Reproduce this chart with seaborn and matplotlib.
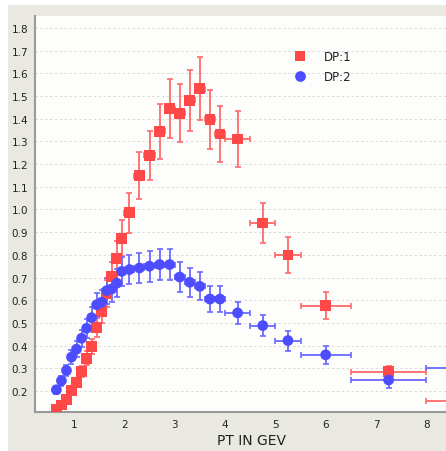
import numpy as np
import pandas as pd
import matplotlib
matplotlib.use("Agg")
import matplotlib.pyplot as plt
import seaborn as sns

# ---- data ----
dp1_x = [0.65, 0.75, 0.85, 0.95, 1.05, 1.15, 1.25, 1.35, 1.45, 1.55, 1.65, 1.75, 1.85, 1.95,
         2.1, 2.3, 2.5, 2.7, 2.9, 3.1, 3.3, 3.5, 3.7, 3.9, 4.25, 4.75, 5.25, 6.0, 7.25, 9.0]
dp1_y = [0.12, 0.138, 0.162, 0.201, 0.238, 0.285, 0.344, 0.397, 0.481, 0.55, 0.63, 0.703, 0.784, 0.873,
         0.985, 1.149, 1.238, 1.344, 1.445, 1.424, 1.481, 1.533, 1.398, 1.333, 1.311, 0.94, 0.799, 0.576, 0.285, 0.157]
dp1_yerr = [0.01, 0.012, 0.014, 0.017, 0.02, 0.024, 0.03, 0.034, 0.042, 0.05, 0.058, 0.066, 0.075, 0.08,
            0.088, 0.105, 0.11, 0.12, 0.13, 0.127, 0.135, 0.14, 0.13, 0.125, 0.122, 0.09, 0.08, 0.06, 0.027, 0.015]
dp1_xerr = [0.05] * 14 + [0.1] * 10 + [0.25, 0.25, 0.25, 0.5, 0.75, 1.0]

dp2_x = [0.65, 0.75, 0.85, 0.95, 1.05, 1.15, 1.25, 1.35, 1.45, 1.55, 1.65, 1.75, 1.85, 1.95,
         2.1, 2.3, 2.5, 2.7, 2.9, 3.1, 3.3, 3.5, 3.7, 3.9, 4.25, 4.75, 5.25, 6.0, 7.25, 9.0]
dp2_y = [0.205, 0.245, 0.29, 0.349, 0.384, 0.432, 0.476, 0.523, 0.58, 0.591, 0.642, 0.65, 0.675, 0.727,
         0.735, 0.742, 0.75, 0.757, 0.757, 0.702, 0.679, 0.661, 0.605, 0.605, 0.544, 0.488, 0.422, 0.359, 0.248, 0.301]
dp2_yerr = [0.018, 0.022, 0.026, 0.031, 0.034, 0.038, 0.042, 0.046, 0.052, 0.054, 0.058, 0.059, 0.061, 0.064,
            0.065, 0.066, 0.068, 0.068, 0.068, 0.065, 0.063, 0.062, 0.058, 0.058, 0.05, 0.048, 0.044, 0.04, 0.033, 0.03]
dp2_xerr = [0.05] * 14 + [0.1] * 10 + [0.25, 0.25, 0.25, 0.5, 0.75, 1.0]

series_names = ["DP:1", "DP:2"]
x_ticks = [1, 2, 3, 4, 5, 6, 7, 8]
y_ticks = [0.2, 0.3, 0.4, 0.5, 0.6, 0.7, 0.8, 0.9, 1.0, 1.1, 1.2, 1.3, 1.4, 1.5, 1.6, 1.7, 1.8]
x_label = "PT IN GEV"

red = "#ff4848"
blue = "#4d4dff"

df = pd.concat([
    pd.DataFrame({"x": dp1_x, "y": dp1_y, "series": series_names[0]}),
    pd.DataFrame({"x": dp2_x, "y": dp2_y, "series": series_names[1]}),
], ignore_index=True)

sns.set_style("white")
plt.rcParams["font.family"] = ["DejaVu Sans"]

fig = plt.figure(figsize=(4.46, 4.52), dpi=100)
fig.patch.set_facecolor("white")
# grey panel
fig.patches.append(matplotlib.patches.Rectangle((8 / 446, 0), 1, (452 - 6) / 452,
                                                 transform=fig.transFigure, facecolor="#e9e9e1",
                                                 edgecolor="none", zorder=-10))
ax = fig.add_axes([35 / 446, (452 - 413) / 452, (446 - 35) / 446 + 0.05, (413 - 17) / 452])
ax.set_facecolor("#fdfdfb")

# error bars
ax.errorbar(dp1_x, dp1_y, yerr=dp1_yerr, xerr=dp1_xerr, fmt="none", ecolor="#ff6a6a",
            elinewidth=1.3, capsize=2.5, capthick=1.2, zorder=2)
ax.errorbar(dp2_x, dp2_y, yerr=dp2_yerr, xerr=dp2_xerr, fmt="none", ecolor="#6a6aff",
            elinewidth=1.3, capsize=2.5, capthick=1.2, zorder=2)

sns.scatterplot(data=df, x="x", y="y", hue="series", style="series",
                palette={series_names[0]: red, series_names[1]: blue},
                markers={series_names[0]: "s", series_names[1]: "o"},
                s=60, edgecolor="none", linewidth=0, ax=ax, zorder=3, legend=True)

ax.set_xlim(0.225, 8.39 + 0.05 * 446 / 50.33)
ax.set_ylim(0.107, 1.853)
ax.set_xticks(x_ticks)
ax.set_yticks(y_ticks)
ax.set_yticklabels([f"{v:.1f}" for v in y_ticks])
ax.tick_params(axis="both", labelsize=7.5, length=3, width=0.8, color="#888888",
               direction="out", pad=2, labelcolor="#222222")
ax.tick_params(axis="y", length=0, pad=5)
ax.grid(axis="y", linestyle=(0, (2.5, 2.5)), color="#dadada", linewidth=0.7)
ax.grid(axis="x", visible=False)
ax.set_axisbelow(True)

for s in ["top", "right"]:
    ax.spines[s].set_visible(False)
for s in ["left", "bottom"]:
    ax.spines[s].set_color("#9a9a9a")
    ax.spines[s].set_linewidth(1.5)

ax.set_xlabel(x_label, fontsize=10, color="#222222", labelpad=3)
ax.set_ylabel("")

leg = ax.legend(loc="upper left", bbox_to_anchor=(0.56, 0.94), frameon=False,
                fontsize=8.5, handletextpad=1.0, labelspacing=0.6, markerscale=1.0)
for t in leg.get_texts():
    t.set_color("#222222")

fig.savefig("out.png", dpi=100, facecolor=fig.get_facecolor())
